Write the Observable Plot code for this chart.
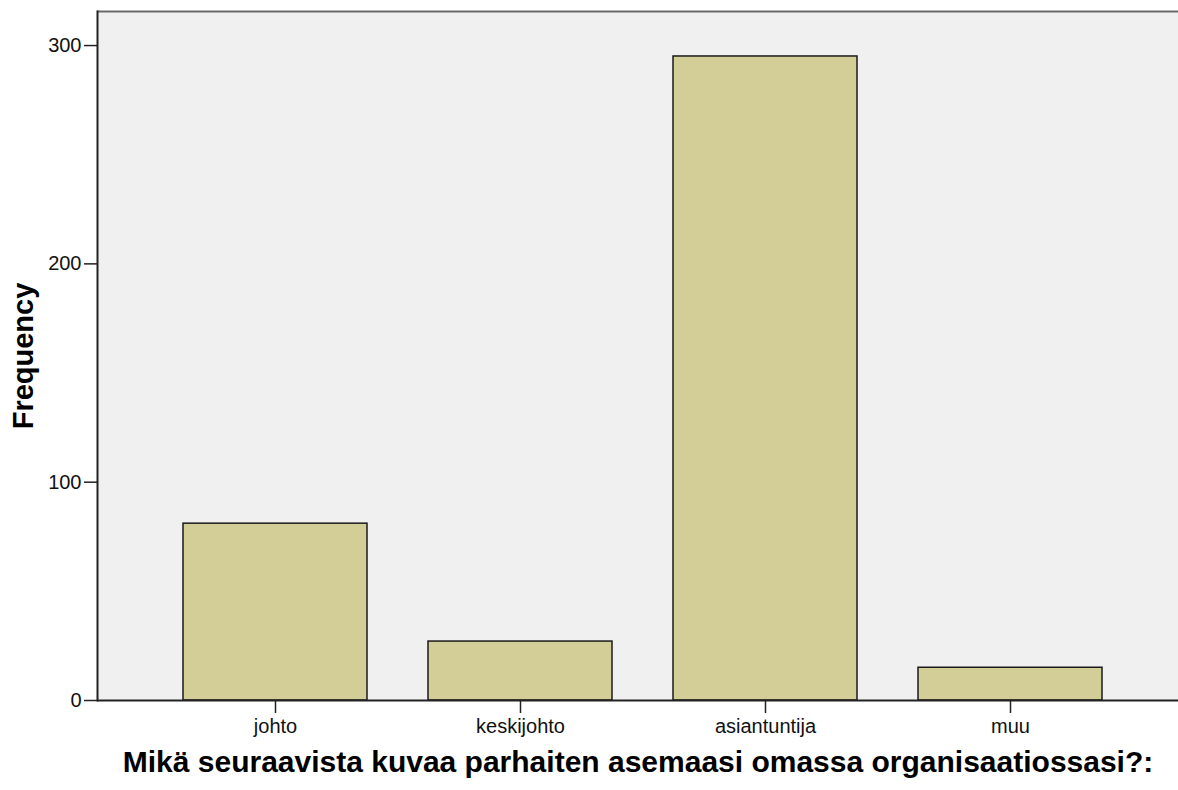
<!DOCTYPE html>
<html><head><meta charset="utf-8">
<script src="https://cdn.jsdelivr.net/npm/d3@7"></script>
<script src="https://cdn.jsdelivr.net/npm/@observablehq/plot@0.6"></script>
<style>body{margin:0;background:#fff}</style>
</head><body><div id="chart"></div>
<script>
const categories = ["johto", "keskijohto", "asiantuntija", "muu"];
const frequencies = [81, 27, 295, 15];
const yTicks = [0, 100, 200, 300];
const yLabel = "Frequency";
const xLabel = "Mikä seuraavista kuvaa parhaiten asemaasi omassa organisaatiossasi?:";

const data = categories.map((c, i) => ({category: c, frequency: frequencies[i]}));
const yMax = 315.6;

const chart = Plot.plot({
  width: 1178, height: 790,
  marginTop: 11, marginBottom: 90, marginLeft: 97, marginRight: 0,
  style: {fontFamily: "'Liberation Sans', Arial, sans-serif", background: "#fff", color: "#000"},
  x: {domain: categories, range: [97, 1187], paddingInner: 0.25, paddingOuter: 0.3466},
  y: {domain: [0, yMax]},
  marks: [
    Plot.frame({fill: "#f0f0f0", stroke: null}),
    Plot.barY(data, {x: "category", y: "frequency", fill: "#d3ce97", stroke: "#1a1a1a", strokeWidth: 1.5}),
    Plot.ruleY([yMax], {stroke: "#6a6a6a", strokeWidth: 2}),
    Plot.ruleY([0], {stroke: "#222", strokeWidth: 2}),
    Plot.frame({anchor: "left", stroke: "#222", strokeWidth: 2}),
    Plot.axisY({ticks: yTicks, tickSize: 13, tickPadding: 3, fontSize: 20, label: null, stroke: "#222", strokeWidth: 1.5, fill: "#111"}),
    Plot.axisX({tickSize: 13, tickPadding: 5, fontSize: 20, label: null, stroke: "#222", strokeWidth: 1.5, fill: "#111"}),
    Plot.text([yLabel], {text: d => d, frameAnchor: "left", dx: -85, rotate: -90, textAnchor: "middle", lineAnchor: "top", fontSize: 29, fontWeight: "bold", fill: "#000"}),
    Plot.text([xLabel], {text: d => d, frameAnchor: "bottom", dy: 62, lineAnchor: "middle", fontSize: 30, fontWeight: "bold", fill: "#000"})
  ]
});
document.getElementById("chart").appendChild(chart);
</script>
</body></html>
